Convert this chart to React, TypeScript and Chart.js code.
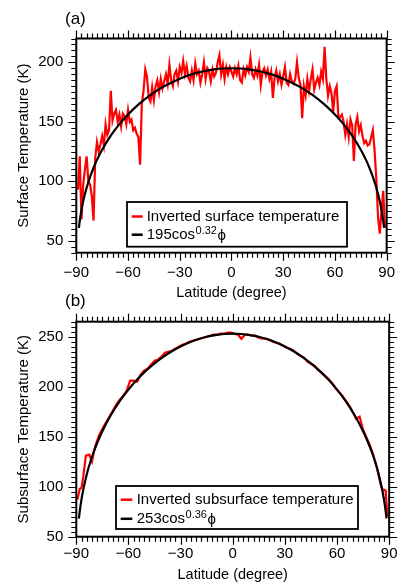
import React, { useEffect, useRef } from 'react';
import { Chart, registerables } from 'chart.js';

Chart.register(...registerables);

const FONT = "'Liberation Sans', Arial, Helvetica, sans-serif";

// ---------- tick labels ----------
const latTicks = [-90, -60, -30, 0, 30, 60, 90];
const surfaceTicks = [50, 100, 150, 200];
const subsurfaceTicks = [50, 100, 150, 200, 250];

// ---------- (a) inverted surface temperature ----------
const surfaceLat = [
  -89, -88, -87, -86, -85, -84, -83, -82, -81, -80,
  -79, -78, -77, -76, -75, -74, -73, -72, -71, -70,
  -69, -68, -67, -66, -65, -64, -63, -62, -61, -60,
  -59, -58, -57, -56, -55, -54, -53, -52, -51, -50,
  -49, -48, -47, -46, -45, -44, -43, -42, -41, -40,
  -39, -38, -37, -36, -35, -34, -33, -32, -31, -30,
  -29, -28, -27, -26, -25, -24, -23, -22, -21, -20,
  -19, -18, -17, -16, -15, -14, -13, -12, -11, -10,
  -9, -8, -7, -6, -5, -4, -3, -2, -1, 0,
  1, 2, 3, 4, 5, 6, 7, 8, 9, 10,
  11, 12, 13, 14, 15, 16, 17, 18, 19, 20,
  21, 22, 23, 24, 25, 26, 27, 28, 29, 30,
  31, 32, 33, 34, 35, 36, 37, 38, 39, 40,
  41, 42, 43, 44, 45, 46, 47, 48, 49, 50,
  51, 52, 53, 54, 55, 56, 57, 58, 59, 60,
  61, 62, 63, 64, 65, 66, 67, 68, 69, 70,
  71, 72, 73, 74, 75, 76, 77, 78, 79, 80,
  81, 82, 83, 84, 85, 86, 87, 88, 89,
];
const surfaceTemp = [
  93, 121, 68, 97, 110, 121, 100, 97, 88, 67,
  120, 133, 125, 131, 138, 130, 148, 139, 143, 176,
  151, 157, 160, 150, 156, 146, 157, 155, 148, 160,
  150, 152, 143, 145, 140, 137, 114, 165, 176, 194,
  188, 170, 167, 179, 168, 180, 185, 175, 186, 178,
  184, 190, 182, 198, 185, 180, 190, 193, 184, 196,
  191, 201, 190, 197, 187, 184, 193, 185, 199, 190,
  193, 183, 190, 200, 186, 195, 192, 184, 194, 188,
  191, 200, 206, 190, 198, 186, 196, 190, 196, 192,
  188, 195, 190, 197, 185, 183, 194, 189, 196, 192,
  204, 190, 187, 194, 189, 198, 181, 192, 195, 189,
  194, 186, 192, 170, 187, 193, 184, 190, 181, 188,
  196, 183, 181, 190, 184, 182, 186, 200, 187, 181,
  153, 180, 172, 186, 176, 186, 194, 177, 183, 187,
  181, 192, 186, 213, 186, 172, 180, 174, 158, 176,
  180, 155, 154, 156, 150, 139, 148, 137, 152, 147,
  117, 148, 154, 142, 147, 138, 132, 134, 130, 131,
  137, 143, 126, 102, 70, 56, 75, 92, 61,
];
// fitted curve 195cos^0.32(phi), tabulated
const surfaceFitLat = [
  -88.5, -88, -87, -86, -84, -82, -80, -78, -75, -70, -65, -60, -55, -50, -45, -40,
  -35, -30, -25, -20, -15, -10, -5, 0, 5, 10, 15, 20, 25, 30, 35, 40, 45, 50, 55,
  60, 65, 70, 75, 78, 80, 82, 84, 86, 87, 88, 88.5,
];
const surfaceFitTemp = [
  60.8, 66.6, 75.9, 83.2, 94.7, 103.7, 111.4, 118.0, 126.5, 138.3, 148.0, 156.2, 163.2, 169.3, 174.5, 179.1,
  182.9, 186.2, 189.0, 191.2, 192.9, 194.1, 194.8, 195.0, 194.8, 194.1, 192.9, 191.2, 189.0, 186.2, 182.9, 179.1, 174.5, 169.3, 163.2,
  156.2, 148.0, 138.3, 126.5, 118.0, 111.4, 103.7, 94.7, 83.2, 75.9, 66.6, 60.8,
];

// ---------- (b) inverted subsurface temperature ----------
const subsurfaceLat = [
  -89.4, -88, -87, -86, -84.5, -82.5, -81, -80, -79,
  -77, -75, -73, -71, -69, -67, -65, -63, -61, -59, -57, -55, -53, -51, -49, -47, -45, -43, -41,
  -39, -37, -35, -33, -31, -29, -27, -25, -23, -21, -19, -17, -15, -13, -11, -9, -7, -5, -3, -1,
  1, 3, 5, 7, 9, 11, 13, 15, 17, 19, 21, 23, 25, 27, 29, 31, 33, 35, 37, 39,
  41, 43, 45, 47, 49, 51, 53, 55, 57, 59, 61, 63, 65, 67, 69, 71, 73, 75, 77, 79, 81, 83, 85,
  86, 87, 88, 89,
];
const subsurfaceTemp = [
  87, 98, 99, 110, 131, 132, 125, 134, 141,
  151, 158, 164, 170, 176, 182, 187, 191, 196, 206, 206, 205, 212, 216, 218, 222, 226, 227, 230,
  234, 235, 236, 238, 240, 242, 243, 245, 246, 247, 248, 249, 250, 251, 252, 252, 253, 253, 254, 254,
  253, 252, 248, 252, 252, 251, 251, 249, 248, 248, 247, 245, 244, 243, 241, 239, 238, 236, 233, 231,
  229, 225, 223, 221, 217, 214, 211, 208, 204, 199, 195, 191, 186, 181, 175, 168, 170, 157, 149, 141, 131, 119, 103,
  97, 97, 96, 70,
];
// fitted curve 253cos^0.36(phi), tabulated
const subsurfaceFitLat = surfaceFitLat;
const subsurfaceFitTemp = [
  68.2, 75.6, 87.5, 97.0, 112.2, 124.4, 134.7, 143.7, 155.5, 171.9, 185.6, 197.1, 207.1, 215.8, 223.3, 229.9,
  235.5, 240.2, 244.2, 247.4, 249.9, 251.6, 252.7, 253.0, 252.7, 251.6, 249.9, 247.4, 244.2, 240.2, 235.5, 229.9, 223.3, 215.8, 207.1,
  197.1, 185.6, 171.9, 155.5, 143.7, 134.7, 124.4, 112.2, 97.0, 87.5, 75.6, 68.2,
];

type LegendRow = { color: string; text: string; sup?: string; tail?: string };

type PanelSpec = {
  top: number;
  height: number;
  padTop: number;
  padRight: number;
  yAxisWidth: number;
  xAxisHeight: number;
  xTickPad: number;
  yMin: number;
  yMax: number;
  yTicks: number[];
  yTitle: string;
  label: string;
  labelPos: [number, number];
  lat: number[];
  temp: number[];
  fitLat: number[];
  fitTemp: number[];
  legendBox: [number, number, number, number];
  legendRowsY: [number, number];
  legendLineX: [number, number];
  legendTextX: number;
  legendRows: LegendRow[];
};

const framePlugin = {
  id: 'frame',
  afterDraw(chart: any, _args: any, opts: any) {
    const { ctx, chartArea: a, scales } = chart;
    const xs = scales.x;
    const ys = scales.y;
    ctx.save();
    ctx.strokeStyle = '#000';
    ctx.lineWidth = 1.2;
    ctx.beginPath();
    for (let v = xs.min; v <= xs.max + 1e-6; v += 3) {
      const px = Math.round(xs.getPixelForValue(v)) + 0.5;
      const major = Math.abs(v % 30) < 1e-6;
      const len = major ? 8 : 5;
      ctx.moveTo(px, a.bottom);
      ctx.lineTo(px, a.bottom + len);
      ctx.moveTo(px, a.top);
      ctx.lineTo(px, a.top - len);
    }
    const yStart = Math.ceil(ys.min / 5) * 5;
    for (let v = yStart; v <= ys.max + 1e-6; v += 5) {
      const py = Math.round(ys.getPixelForValue(v)) + 0.5;
      const major = Math.abs(v % 50) < 1e-6;
      const len = major ? 8 : 5;
      ctx.moveTo(a.left, py);
      ctx.lineTo(a.left - len, py);
      ctx.moveTo(a.right, py);
      ctx.lineTo(a.right + len, py);
    }
    ctx.stroke();

    ctx.lineWidth = 2;
    ctx.strokeRect(a.left, a.top, a.right - a.left, a.bottom - a.top);

    // panel label
    ctx.fillStyle = '#000';
    ctx.font = `17px ${FONT}`;
    ctx.textAlign = 'left';
    ctx.textBaseline = 'middle';
    ctx.fillText(opts.label, opts.labelPos[0], opts.labelPos[1]);

    // legend
    const [x1, y1, x2, y2] = opts.legendBox;
    ctx.fillStyle = '#fff';
    ctx.fillRect(x1, y1, x2 - x1, y2 - y1);
    ctx.lineWidth = 1.8;
    ctx.strokeStyle = '#000';
    ctx.strokeRect(x1, y1, x2 - x1, y2 - y1);
    opts.legendRows.forEach((row: LegendRow, i: number) => {
      const y = opts.legendRowsY[i];
      ctx.strokeStyle = row.color;
      ctx.lineWidth = 2.5;
      ctx.beginPath();
      ctx.moveTo(opts.legendLineX[0], y);
      ctx.lineTo(opts.legendLineX[1], y);
      ctx.stroke();
      ctx.fillStyle = '#000';
      ctx.font = `15px ${FONT}`;
      ctx.textBaseline = 'middle';
      let x = opts.legendTextX;
      ctx.fillText(row.text, x, y);
      x += ctx.measureText(row.text).width;
      if (row.sup) {
        ctx.font = `11px ${FONT}`;
        ctx.fillText(row.sup, x + 0.5, y - 4);
        x += ctx.measureText(row.sup).width + 1;
      }
      if (row.tail) {
        ctx.font = `15px ${FONT}`;
        ctx.fillText(row.tail, x, y + 1);
      }
    });
    ctx.restore();
  },
};

const fmtLat = (v: number) => (v < 0 ? '\u2212' + Math.abs(v) : String(v));

function makeConfig(p: PanelSpec): any {
  return {
    type: 'line',
    data: {
      datasets: [
        {
          data: p.fitLat.map((x, i) => ({ x, y: p.fitTemp[i] })),
          borderColor: '#000',
          borderWidth: 2.2,
          pointRadius: 0,
          cubicInterpolationMode: 'monotone',
          fill: false,
        },
        {
          data: p.lat.map((x, i) => ({ x, y: p.temp[i] })),
          borderColor: '#ff0000',
          borderWidth: 2.2,
          pointRadius: 0,
          tension: 0,
          fill: false,
        },
      ],
    },
    options: {
      animation: false,
      responsive: false,
      devicePixelRatio: 1,
      layout: { padding: { top: p.padTop, right: p.padRight, left: 0, bottom: 0 } },
      plugins: {
        legend: { display: false },
        tooltip: { enabled: false },
        frame: {
          label: p.label,
          labelPos: p.labelPos,
          legendBox: p.legendBox,
          legendRowsY: p.legendRowsY,
          legendLineX: p.legendLineX,
          legendTextX: p.legendTextX,
          legendRows: p.legendRows,
        },
      },
      scales: {
        x: {
          type: 'linear',
          min: -90,
          max: 90,
          afterBuildTicks: (s: any) => {
            s.ticks = latTicks.map((v) => ({ value: v }));
          },
          afterFit: (s: any) => {
            s.height = p.xAxisHeight;
          },
          grid: { display: false, drawTicks: false },
          border: { display: false },
          ticks: {
            font: { family: FONT, size: 15 },
            color: '#000',
            padding: p.xTickPad,
            maxRotation: 0,
            autoSkip: false,
            callback: (v: number) => fmtLat(v),
          },
          title: {
            display: true,
            text: 'Latitude (degree)',
            color: '#000',
            font: { family: FONT, size: 14.5, lineHeight: 1 },
            padding: { top: 0.5, bottom: 0 },
          },
        },
        y: {
          type: 'linear',
          min: p.yMin,
          max: p.yMax,
          afterBuildTicks: (s: any) => {
            s.ticks = p.yTicks.map((v) => ({ value: v }));
          },
          afterFit: (s: any) => {
            s.width = p.yAxisWidth;
          },
          grid: { display: false, drawTicks: false },
          border: { display: false },
          ticks: {
            font: { family: FONT, size: 15 },
            color: '#000',
            padding: 13,
            autoSkip: false,
            callback: (v: number) => String(v),
          },
          title: {
            display: true,
            text: p.yTitle,
            color: '#000',
            font: { family: FONT, size: 15, lineHeight: 1 },
            padding: { top: 16.5, bottom: 0 },
          },
        },
      },
    },
    plugins: [framePlugin],
  };
}

const panelA: PanelSpec = {
  top: 0,
  height: 300,
  padTop: 38.5,
  padRight: 9.5,
  yAxisWidth: 76.3,
  xAxisHeight: 47.3,
  xTickPad: 11,
  yMin: 40,
  yMax: 220,
  yTicks: surfaceTicks,
  yTitle: 'Surface Temperature (K)',
  label: '(a)',
  labelPos: [65, 19.5],
  lat: surfaceLat,
  temp: surfaceTemp,
  fitLat: surfaceFitLat,
  fitTemp: surfaceFitTemp,
  legendBox: [127, 202, 347, 246.7],
  legendRowsY: [216.5, 234.7],
  legendLineX: [131.7, 142.7],
  legendTextX: 146.7,
  legendRows: [
    { color: '#ff0000', text: 'Inverted surface temperature' },
    { color: '#000', text: '195cos', sup: '0.32', tail: '\u03D5' },
  ],
};

const panelB: PanelSpec = {
  top: 283,
  height: 299,
  padTop: 38.7,
  padRight: 9.5,
  yAxisWidth: 76.3,
  xAxisHeight: 45.3,
  xTickPad: 8.5,
  yMin: 50,
  yMax: 265,
  yTicks: subsurfaceTicks,
  yTitle: 'Subsurface Temperature (K)',
  label: '(b)',
  labelPos: [65, 18.5],
  lat: subsurfaceLat,
  temp: subsurfaceTemp,
  fitLat: subsurfaceFitLat,
  fitTemp: subsurfaceFitTemp,
  legendBox: [116, 203, 358, 246],
  legendRowsY: [216.7, 235.8],
  legendLineX: [120.7, 132.3],
  legendTextX: 136.7,
  legendRows: [
    { color: '#ff0000', text: 'Inverted subsurface temperature' },
    { color: '#000', text: '253cos', sup: '0.36', tail: '\u03D5' },
  ],
};

function Panel({ spec }: { spec: PanelSpec }) {
  const ref = useRef<HTMLCanvasElement | null>(null);
  useEffect(() => {
    if (!ref.current) return;
    const chart = new Chart(ref.current, makeConfig(spec));
    return () => chart.destroy();
  }, [spec]);
  return (
    <canvas
      ref={ref}
      width={406}
      height={spec.height}
      style={{ position: 'absolute', left: 0, top: spec.top, width: 406, height: spec.height, display: 'block' }}
    />
  );
}

export default function App() {
  return (
    <div style={{ position: 'absolute', left: 0, top: 0, width: 406, height: 582, background: '#fff', overflow: 'hidden' }}>
      <Panel spec={panelA} />
      <Panel spec={panelB} />
    </div>
  );
}
